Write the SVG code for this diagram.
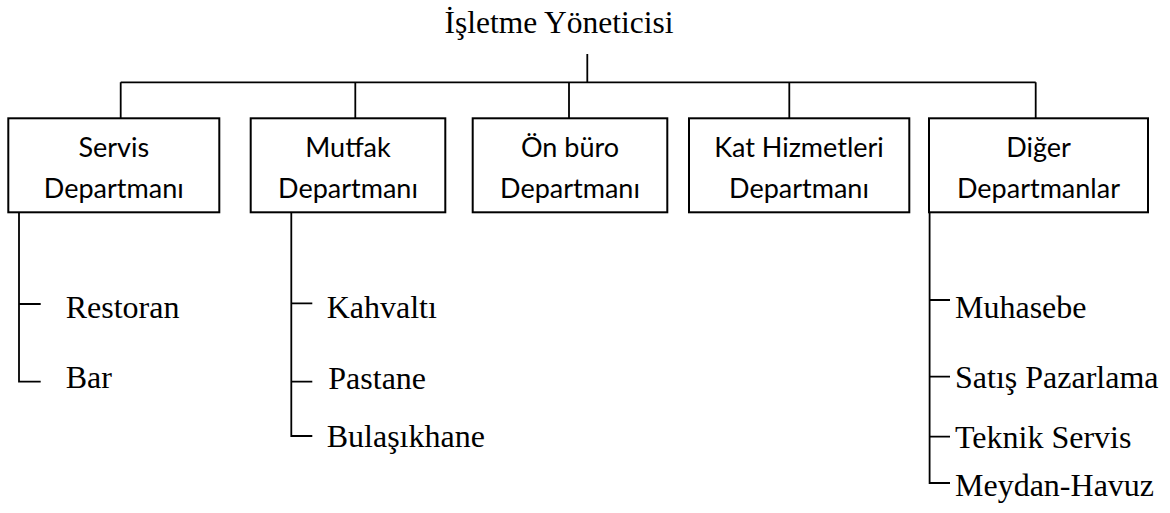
<svg xmlns="http://www.w3.org/2000/svg" width="1170" height="513" viewBox="0 0 1170 513">
<style>
.box{fill:#fff;stroke:#000;stroke-width:2}
.ln{fill:none;stroke:#000;stroke-width:1.8}
.bt{font-family:Lato,"Open Sans",sans-serif;font-size:27px;text-anchor:middle;fill:#000}
.st{font-family:"Liberation Serif","Times New Roman",serif;font-size:32px;fill:#000}
.tt{font-family:"Liberation Serif","Times New Roman",serif;font-size:31.5px;fill:#000;text-anchor:middle}
</style>
<rect width="1170" height="513" fill="#fff"/>
<g id="connectors">
<path class="ln" d="M587.3 54 V82.3 M120.7 82.3 H1035.7 M120.7 82.3 V118.3 M355.3 82.3 V118.3 M569 82.3 V118.3 M789.3 82.3 V118.3 M1035.7 82.3 V118.3"/>
<path class="ln" d="M19 212.3 V381.7 H40.7 M19 304 H40.7"/>
<path class="ln" d="M291.3 212.3 V436 H312.3 M291.3 303.3 H312.3 M291.3 381.7 H312.3"/>
<path class="ln" d="M929.6 212.3 V483 H950 M929.6 300 H950 M929.6 376.7 H950 M929.6 436.7 H950"/>
</g>
<g id="root"><text class="tt" x="559" y="33">İşletme Yöneticisi</text></g>
<g id="servis"><rect class="box" x="8.3" y="118.3" width="211" height="94"/><text class="bt" x="113.8" y="157">Servis</text><text class="bt" x="113.8" y="198">Departmanı</text></g>
<g id="mutfak"><rect class="box" x="250.7" y="118.3" width="194.6" height="94"/><text class="bt" x="348" y="157">Mutfak</text><text class="bt" x="348" y="198">Departmanı</text></g>
<g id="onburo"><rect class="box" x="472.7" y="118.3" width="194.6" height="94"/><text class="bt" x="570" y="157">Ön büro</text><text class="bt" x="570" y="198">Departmanı</text></g>
<g id="kat"><rect class="box" x="689" y="118.3" width="220.3" height="94"/><text class="bt" x="799" y="157">Kat Hizmetleri</text><text class="bt" x="799" y="198">Departmanı</text></g>
<g id="diger"><rect class="box" x="929" y="118.3" width="219" height="94"/><text class="bt" x="1038.5" y="157">Diğer</text><text class="bt" x="1038.5" y="198">Departmanlar</text></g>
<g id="restoran"><text class="st" x="65.7" y="318.3">Restoran</text></g>
<g id="bar"><text class="st" x="65.7" y="388.3">Bar</text></g>
<g id="kahvalti"><text class="st" x="326.7" y="317.7">Kahvaltı</text></g>
<g id="pastane"><text class="st" x="328.3" y="389.3">Pastane</text></g>
<g id="bulasikhane"><text class="st" x="326.7" y="446.7">Bulaşıkhane</text></g>
<g id="muhasebe"><text class="st" x="955" y="318.3">Muhasebe</text></g>
<g id="satis"><text class="st" x="955" y="388">Satış Pazarlama</text></g>
<g id="teknik"><text class="st" x="955" y="448">Teknik Servis</text></g>
<g id="meydan"><text class="st" x="955" y="496">Meydan-Havuz</text></g>
</svg>
